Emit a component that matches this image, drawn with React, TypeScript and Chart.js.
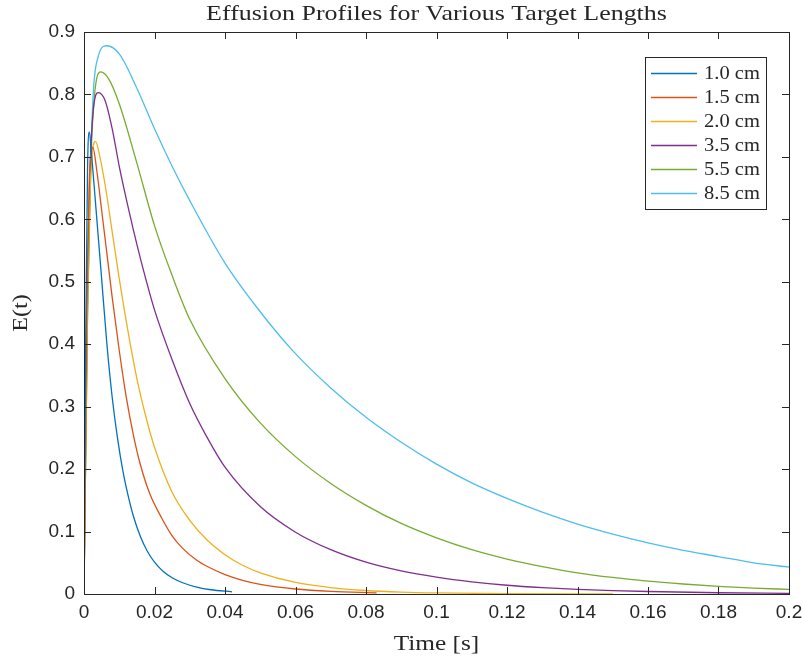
import React, { useEffect, useRef } from 'react';
import { Chart, registerables } from 'chart.js';

Chart.register(...registerables);

const chartTitle = 'Effusion Profiles for Various Target Lengths';
const xAxisLabel = 'Time [s]';
const yAxisLabel = 'E(t)';

const seriesLabels = ['1.0 cm', '1.5 cm', '2.0 cm', '3.5 cm', '5.5 cm', '8.5 cm'];
const seriesColors = ['#0072BD', '#D95319', '#EDB120', '#7E2F8E', '#77AC30', '#4DBEEE'];

// 1.0 cm
const t10 = [0, 0.0005, 0.001, 0.0015, 0.0022, 0.003, 0.004, 0.005, 0.0065, 0.008, 0.0095, 0.011, 0.0125, 0.014, 0.016, 0.018, 0.02, 0.0225, 0.025, 0.028, 0.032, 0.036, 0.042];
const e10 = [0, 0.42, 0.68, 0.74, 0.7, 0.645, 0.575, 0.505, 0.4, 0.315, 0.25, 0.198, 0.158, 0.125, 0.092, 0.068, 0.051, 0.036, 0.026, 0.018, 0.011, 0.0068, 0.0035];
// 1.5 cm
const t15 = [0, 0.0008, 0.0015, 0.0025, 0.0037, 0.005, 0.0065, 0.008, 0.01, 0.012, 0.014, 0.016, 0.0187, 0.022, 0.025, 0.028, 0.032, 0.035, 0.04, 0.045, 0.05, 0.06, 0.07, 0.083];
const e15 = [0, 0.45, 0.66, 0.715, 0.675, 0.615, 0.545, 0.475, 0.39, 0.315, 0.255, 0.207, 0.16, 0.122, 0.093, 0.073, 0.054, 0.044, 0.031, 0.022, 0.0155, 0.008, 0.0042, 0.0018];
// 2.0 cm
const t20 = [0, 0.001, 0.002, 0.0033, 0.0045, 0.006, 0.008, 0.01, 0.0125, 0.015, 0.0175, 0.02, 0.025, 0.03, 0.035, 0.04, 0.045, 0.05, 0.06, 0.07, 0.08, 0.09, 0.1, 0.12, 0.15];
const e20 = [0, 0.45, 0.68, 0.725, 0.7, 0.655, 0.58, 0.505, 0.42, 0.345, 0.285, 0.235, 0.163, 0.118, 0.086, 0.063, 0.046, 0.034, 0.0185, 0.0102, 0.0056, 0.0031, 0.0017, 0.0005, 0.0001];
// 3.5 cm
const t35 = [0, 0.001, 0.002, 0.0041, 0.006, 0.008, 0.01, 0.0125, 0.015, 0.0175, 0.02, 0.025, 0.03, 0.035, 0.04, 0.05, 0.06, 0.07, 0.08, 0.09, 0.1, 0.11, 0.12, 0.13, 0.14, 0.15, 0.16, 0.18, 0.2];
const e35 = [0, 0.5, 0.72, 0.803, 0.79, 0.745, 0.685, 0.62, 0.56, 0.505, 0.455, 0.375, 0.305, 0.25, 0.203, 0.14, 0.099, 0.071, 0.051, 0.037, 0.027, 0.0195, 0.014, 0.0102, 0.0074, 0.0054, 0.004, 0.002, 0.001];
// 5.5 cm
const t55 = [0, 0.001, 0.002, 0.003, 0.0047, 0.007, 0.01, 0.015, 0.02, 0.025, 0.03, 0.04, 0.05, 0.06, 0.07, 0.08, 0.09, 0.1, 0.11, 0.12, 0.13, 0.14, 0.15, 0.16, 0.17, 0.18, 0.19, 0.2];
const e55 = [0, 0.45, 0.7, 0.8, 0.836, 0.825, 0.785, 0.69, 0.59, 0.51, 0.44, 0.345, 0.274, 0.22, 0.177, 0.142, 0.113, 0.09, 0.071, 0.056, 0.044, 0.034, 0.0265, 0.0205, 0.016, 0.0123, 0.0095, 0.0073];
// 8.5 cm
const t85 = [0, 0.001, 0.0017, 0.0026, 0.004, 0.0064, 0.01, 0.015, 0.02, 0.025, 0.03, 0.04, 0.05, 0.059, 0.07, 0.08, 0.09, 0.1, 0.11, 0.12, 0.13, 0.14, 0.15, 0.16, 0.17, 0.18, 0.19, 0.2];
const e85 = [0, 0.45, 0.65, 0.8, 0.86, 0.878, 0.865, 0.81, 0.745, 0.685, 0.63, 0.53, 0.452, 0.391, 0.33, 0.283, 0.243, 0.208, 0.178, 0.153, 0.131, 0.112, 0.096, 0.082, 0.07, 0.06, 0.05, 0.043];

const seriesT = [t10, t15, t20, t35, t55, t85];
const seriesE = [e10, e15, e20, e35, e55, e85];

const xMin = 0, xMax = 0.2, xStep = 0.02;
const yMin = 0, yMax = 0.9, yStep = 0.1;

const AXIS = '#262626';
const SANS = '"Liberation Sans", Arial, Helvetica, sans-serif';
const SERIF = '"Liberation Serif", "Times New Roman", serif';

const fmt = (v: number) => String(parseFloat(v.toFixed(2)));

function wideText(ctx: CanvasRenderingContext2D, text: string, x: number, y: number, sx: number, rot = 0) {
  ctx.save();
  ctx.translate(x, y);
  if (rot) ctx.rotate(rot);
  ctx.scale(sx, 1);
  ctx.fillText(text, 0, 0);
  ctx.restore();
}

const decor = {
  id: 'decor',
  afterDatasetsDraw(chart: any) {
    const { ctx, chartArea: a, scales } = chart;
    const xs = scales.x, ys = scales.y;
    ctx.save();
    ctx.strokeStyle = AXIS;
    ctx.lineWidth = 1;
    ctx.strokeRect(Math.round(a.left) + 0.5, Math.round(a.top) + 0.5, Math.round(a.right - a.left), Math.round(a.bottom - a.top));
    const L = 7;
    ctx.beginPath();
    xs.ticks.forEach((t: any) => {
      const px = Math.round(xs.getPixelForValue(t.value)) + 0.5;
      ctx.moveTo(px, a.bottom); ctx.lineTo(px, a.bottom - L);
      ctx.moveTo(px, a.top); ctx.lineTo(px, a.top + L);
    });
    ys.ticks.forEach((t: any) => {
      const py = Math.round(ys.getPixelForValue(t.value)) + 0.5;
      ctx.moveTo(a.left, py); ctx.lineTo(a.left + L, py);
      ctx.moveTo(a.right, py); ctx.lineTo(a.right - L, py);
    });
    ctx.stroke();

    // title and axis labels
    const cx = (a.left + a.right) / 2;
    const cy = (a.top + a.bottom) / 2;
    ctx.fillStyle = AXIS;
    ctx.textAlign = 'center';
    ctx.textBaseline = 'middle';
    ctx.font = `22px ${SERIF}`;
    wideText(ctx, chartTitle, cx, 14, 1.18);
    wideText(ctx, xAxisLabel, cx, 644, 1.15);
    wideText(ctx, yAxisLabel, 21, cy, 1.1, -Math.PI / 2);

    // legend
    const lx = 645, ly = 57, lw = 121, lh = 152;
    ctx.fillStyle = '#ffffff';
    ctx.fillRect(lx, ly, lw, lh);
    ctx.strokeStyle = AXIS;
    ctx.lineWidth = 1;
    ctx.strokeRect(lx + 0.5, ly + 0.5, lw, lh);
    ctx.font = `18px ${SERIF}`;
    ctx.textAlign = 'left';
    chart.data.datasets.forEach((ds: any, i: number) => {
      const yy = ly + 16 + i * 24;
      ctx.strokeStyle = ds.borderColor;
      ctx.lineWidth = 1.3;
      ctx.beginPath();
      ctx.moveTo(lx + 6, yy + 0.5);
      ctx.lineTo(lx + 52, yy + 0.5);
      ctx.stroke();
      ctx.fillStyle = AXIS;
      wideText(ctx, ds.label, lx + 59, yy + 1, 1.14);
    });
    ctx.restore();
  },
};

export default function App() {
  const ref = useRef<HTMLCanvasElement | null>(null);
  useEffect(() => {
    document.body.style.margin = '0';
    const canvas = ref.current!;
    const datasets = seriesLabels.map((label, i) => ({
      label,
      data: seriesT[i].map((t, k) => ({ x: t, y: seriesE[i][k] })),
      borderColor: seriesColors[i],
      backgroundColor: seriesColors[i],
      borderWidth: 1.3,
      pointRadius: 0,
      fill: false,
      cubicInterpolationMode: 'monotone' as const,
    }));
    const chart = new Chart(canvas, {
      type: 'line',
      data: { datasets },
      options: {
        responsive: false,
        animation: false,
        layout: { padding: { left: 0, right: 14, top: 32, bottom: 0 } },
        plugins: { legend: { display: false }, tooltip: { enabled: false }, title: { display: false } },
        scales: {
          x: {
            type: 'linear',
            min: xMin,
            max: xMax,
            grid: { display: false, drawTicks: false },
            border: { display: false },
            ticks: {
              stepSize: xStep,
              padding: 7,
              color: AXIS,
              font: { size: 19, family: SANS },
              maxRotation: 0,
              autoSkip: false,
              callback: (v: any) => fmt(Number(v)),
            },
            afterFit: (s: any) => { s.height = 66; s.paddingLeft = 0; s.paddingRight = 0; },
          },
          y: {
            type: 'linear',
            min: yMin,
            max: yMax,
            grid: { display: false, drawTicks: false },
            border: { display: false },
            ticks: {
              stepSize: yStep,
              padding: 9,
              color: AXIS,
              font: { size: 19, family: SANS },
              autoSkip: false,
              callback: (v: any) => fmt(Number(v)),
            },
            afterFit: (s: any) => { s.width = 84; s.paddingTop = 0; s.paddingBottom = 0; },
          },
        },
      },
      plugins: [decor],
    });
    return () => chart.destroy();
  }, []);
  return (
    <div style={{ width: 803, height: 660 }}>
      <canvas ref={ref} width={803} height={660} />
    </div>
  );
}
